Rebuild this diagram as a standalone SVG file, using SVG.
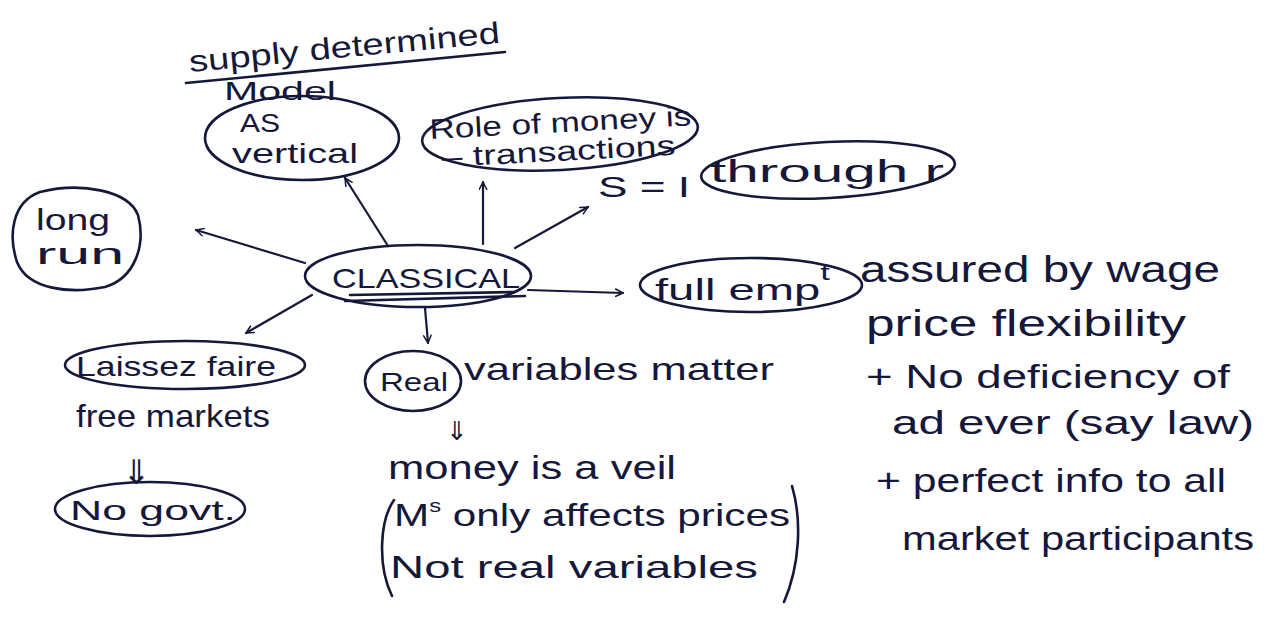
<svg xmlns="http://www.w3.org/2000/svg" width="1271" height="619" viewBox="0 0 1271 619">
<defs>
<style>
.ink{fill:#16183a;font-family:"Liberation Sans","DejaVu Sans",sans-serif;}
.shape{fill:none;stroke:#16183a;stroke-width:2.6;stroke-linecap:round;stroke-linejoin:round;}
.conn{fill:none;stroke:#16183a;stroke-width:2.2;stroke-linecap:round;marker-end:url(#arr);}
</style>
<marker id="arr" viewBox="0 0 12 12" refX="11" refY="6" markerWidth="9" markerHeight="9" orient="auto" markerUnits="userSpaceOnUse">
<path d="M1,1 L11,6 L1,11" fill="none" stroke="#16183a" stroke-width="2" stroke-linecap="round" stroke-linejoin="round"/>
</marker>
</defs>
<rect width="1271" height="619" fill="#ffffff"/>

<g id="title">
<text class="ink" x="190" y="72" font-size="30" textLength="312" lengthAdjust="spacingAndGlyphs" transform="rotate(-5.4 190 72)">supply determined</text>
<path class="shape" d="M186,83 L505,52"/>
<text class="ink" x="224" y="100" font-size="26" textLength="112" lengthAdjust="spacingAndGlyphs">Model</text>
</g>

<g id="node-as-vertical">
<ellipse class="shape" cx="302" cy="138" rx="97" ry="42"/>
<text class="ink" x="240" y="132" font-size="26" textLength="40" lengthAdjust="spacingAndGlyphs">AS</text>
<text class="ink" x="232" y="163" font-size="28" textLength="126" lengthAdjust="spacingAndGlyphs">vertical</text>
</g>

<g id="node-role-of-money">
<ellipse class="shape" cx="560" cy="134" rx="138" ry="36" transform="rotate(-3 560 134)"/>
<text class="ink" x="430" y="139" font-size="28" textLength="262" lengthAdjust="spacingAndGlyphs" transform="rotate(-3 430 139)">Role of money is</text>
<text class="ink" x="442" y="167" font-size="28" textLength="234" lengthAdjust="spacingAndGlyphs" transform="rotate(-3 442 167)">– transactions</text>
</g>

<g id="node-s-i">
<text class="ink" x="598" y="197" font-size="30" textLength="92" lengthAdjust="spacingAndGlyphs">S = I</text>
<ellipse class="shape" cx="828" cy="170" rx="127" ry="28" transform="rotate(-3 828 170)"/>
<text class="ink" x="710" y="182" font-size="32" textLength="234" lengthAdjust="spacingAndGlyphs">through r</text>
</g>

<g id="node-long-run">
<path class="shape" d="M40,192 C80,182 128,190 138,215 C146,245 135,278 105,287 C70,294 28,290 17,262 C8,235 12,202 40,192 Z"/>
<text class="ink" x="36" y="230" font-size="30" textLength="74" lengthAdjust="spacingAndGlyphs">long</text>
<text class="ink" x="36" y="264" font-size="30" textLength="88" lengthAdjust="spacingAndGlyphs">run</text>
</g>

<g id="node-classical">
<ellipse class="shape" cx="418" cy="276" rx="113" ry="31"/>
<text class="ink" x="332" y="288" font-size="28" textLength="188" lengthAdjust="spacingAndGlyphs">CLASSICAL</text>
<path class="shape" d="M350,295 L515,292 M345,301 L525,296" stroke-width="2"/>
</g>

<g id="node-full-empt">
<ellipse class="shape" cx="751" cy="285" rx="111" ry="27"/>
<text class="ink" x="655" y="300" font-size="30" textLength="175" lengthAdjust="spacingAndGlyphs">full emp<tspan font-size="22" dy="-20">t</tspan></text>
</g>

<g id="note-full-empt">
<text class="ink" x="860" y="282" font-size="36" textLength="360" lengthAdjust="spacingAndGlyphs">assured by wage</text>
<text class="ink" x="866" y="336" font-size="36" textLength="320" lengthAdjust="spacingAndGlyphs">price flexibility</text>
<text class="ink" x="866" y="388" font-size="34" textLength="364" lengthAdjust="spacingAndGlyphs">+ No deficiency of</text>
<text class="ink" x="892" y="434" font-size="34" textLength="362" lengthAdjust="spacingAndGlyphs">ad ever (say law)</text>
<text class="ink" x="876" y="492" font-size="34" textLength="350" lengthAdjust="spacingAndGlyphs">+ perfect info to all</text>
<text class="ink" x="902" y="550" font-size="34" textLength="352" lengthAdjust="spacingAndGlyphs">market participants</text>
</g>

<g id="node-laissez-faire">
<ellipse class="shape" cx="185" cy="365" rx="120" ry="24"/>
<text class="ink" x="76" y="376" font-size="28" textLength="200" lengthAdjust="spacingAndGlyphs">Laissez faire</text>
<text class="ink" x="76" y="427" font-size="32" textLength="194" lengthAdjust="spacingAndGlyphs">free markets</text>
<text class="ink" x="122" y="484" font-size="34">⇓</text>
</g>

<g id="node-no-govt">
<ellipse class="shape" cx="150" cy="509" rx="95" ry="27"/>
<text class="ink" x="70" y="520" font-size="28" textLength="166" lengthAdjust="spacingAndGlyphs">No govt.</text>
</g>

<g id="node-real">
<ellipse class="shape" cx="413" cy="381" rx="48" ry="30"/>
<text class="ink" x="380" y="391" font-size="26" textLength="68" lengthAdjust="spacingAndGlyphs">Real</text>
<text class="ink" x="464" y="380" font-size="32" textLength="310" lengthAdjust="spacingAndGlyphs">variables matter</text>
<text class="ink" x="446" y="440" font-size="26">⇓</text>
</g>

<g id="note-money-veil">
<text class="ink" x="388" y="479" font-size="34" textLength="288" lengthAdjust="spacingAndGlyphs">money is a veil</text>
<path class="shape" d="M394,500 C380,520 377,565 392,596"/>
<text class="ink" x="394" y="526" font-size="32" textLength="396" lengthAdjust="spacingAndGlyphs">M<tspan font-size="18" dy="-14">s</tspan><tspan dy="14"> only affects prices</tspan></text>
<text class="ink" x="390" y="578" font-size="32" textLength="368" lengthAdjust="spacingAndGlyphs">Not real variables</text>
<path class="shape" d="M792,486 C802,520 800,565 784,602"/>
</g>

<g id="connectors">
<path class="conn" d="M305,263 L196,230"/>
<path class="conn" d="M388,246 L345,178"/>
<path class="conn" d="M483,244 L483,182"/>
<path class="conn" d="M515,248 L588,207"/>
<path class="conn" d="M528,290 L623,293"/>
<path class="conn" d="M312,295 L246,333"/>
<path class="conn" d="M425,308 L428,343"/>
</g>
</svg>
